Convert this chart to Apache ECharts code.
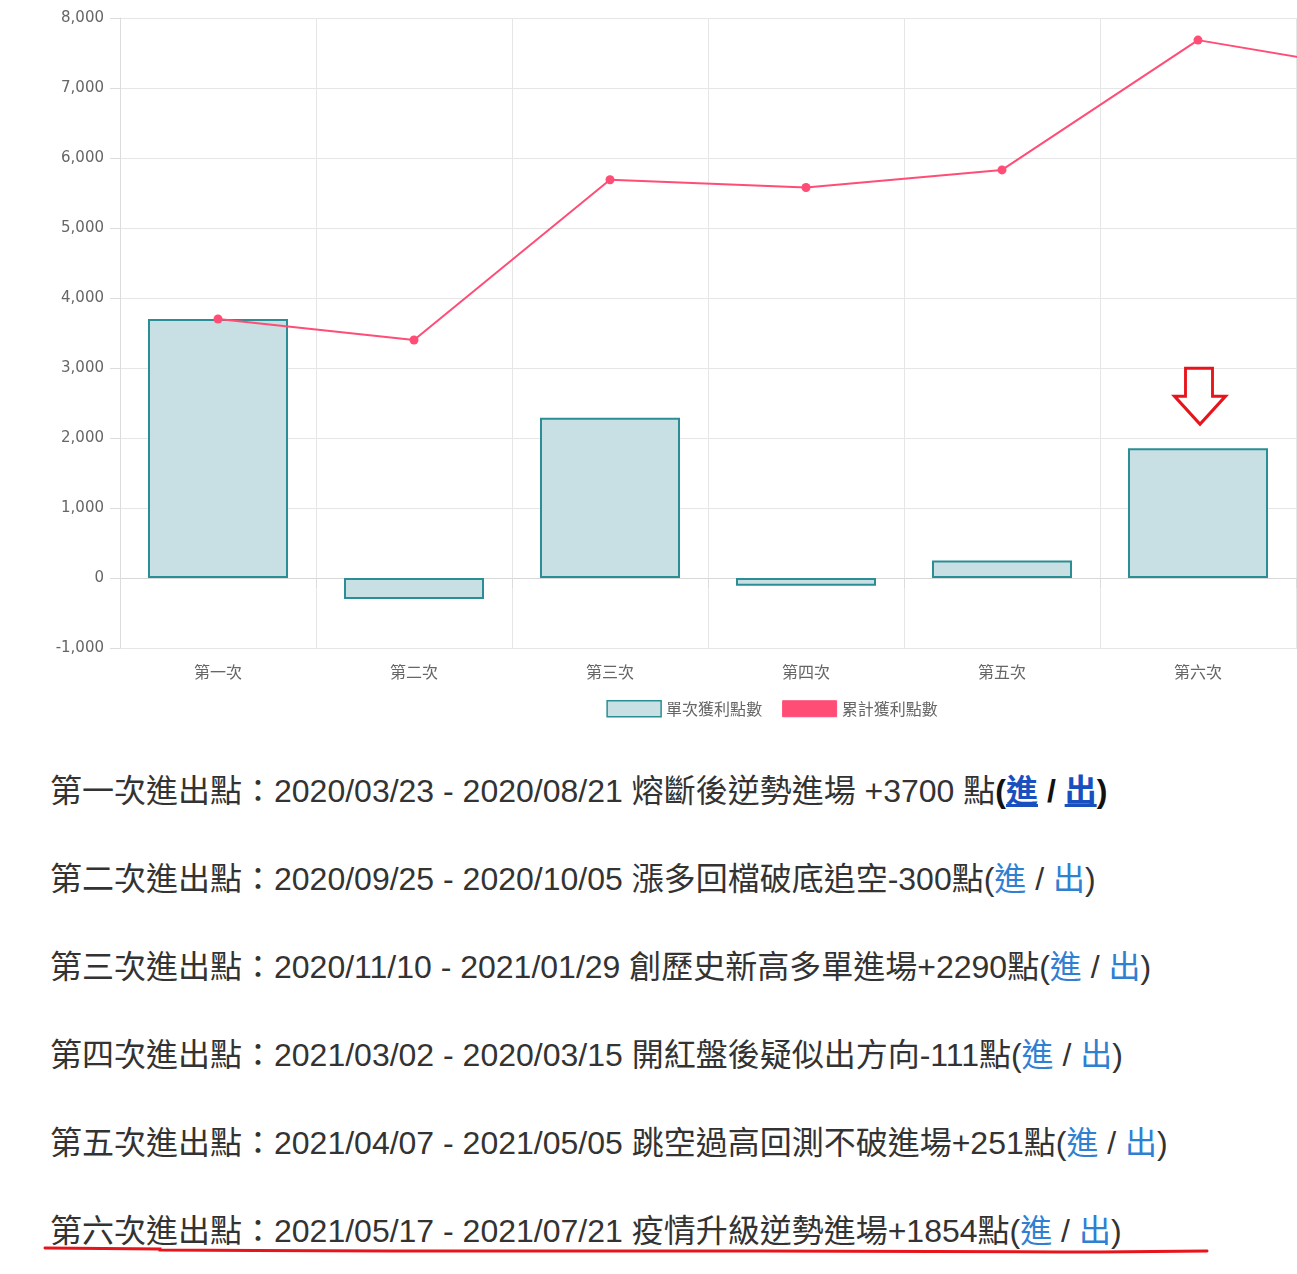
<!DOCTYPE html>
<html>
<head>
<meta charset="utf-8">
<script src="https://cdn.jsdelivr.net/npm/echarts@6/dist/echarts.min.js"></script>
<style>
  html, body { margin: 0; padding: 0; background: #fff; width: 1297px; height: 1274px; overflow: hidden; position: relative; }
  #chart { position: absolute; left: 0; top: 0; width: 1544px; height: 740px; }
  #notes { position: absolute; left: 50px; top: 747px; font-family: "Liberation Sans", "Noto Sans CJK TC", sans-serif; font-size: 32px; color: #333; }
  #notes p { margin: 0; height: 88px; line-height: 88px; white-space: nowrap; }
  #notes a { color: #2f7fd3; text-decoration: none; }
  #notes p.first .paren { font-weight: bold; color: #111; }
  #notes p.first a { color: #1a4fc0; font-weight: bold; text-decoration: underline; }
  #underline { position: absolute; left: 0; top: 0; }
</style>
</head>
<body>
<div id="chart"></div>
<div id="notes"></div>
<svg id="underline" width="1297" height="1274"></svg>
<script>
// ---- data ----
const categories = ['第一次', '第二次', '第三次', '第四次', '第五次', '第六次', '第七次'];
const singleValues = [3700, -300, 2290, -111, 251, 1854, -474];
const cumulativeValues = [3700, 3400, 5690, 5579, 5830, 7684, 7210];
const seriesNames = ['單次獲利點數', '累計獲利點數'];
const yTicks = { min: -1000, max: 8000, interval: 1000 };
const noteLines = [
  { text: '第一次進出點：2020/03/23 - 2020/08/21 熔斷後逆勢進場 +3700 點', first: true },
  { text: '第二次進出點：2020/09/25 - 2020/10/05 漲多回檔破底追空-300點' },
  { text: '第三次進出點：2020/11/10 - 2021/01/29 創歷史新高多單進場+2290點' },
  { text: '第四次進出點：2021/03/02 - 2020/03/15 開紅盤後疑似出方向-111點' },
  { text: '第五次進出點：2021/04/07 - 2021/05/05 跳空過高回測不破進場+251點' },
  { text: '第六次進出點：2021/05/17 - 2021/07/21 疫情升級逆勢進場+1854點' }
];
const linkWords = ['進', '出'];

// ---- notes text ----
const notes = document.getElementById('notes');
noteLines.forEach(l => {
  const p = document.createElement('p');
  if (l.first) p.className = 'first';
  p.appendChild(document.createTextNode(l.text));
  const o = document.createElement('span'); o.className = 'paren'; o.textContent = '(';
  p.appendChild(o);
  const a1 = document.createElement('a'); a1.href = '#'; a1.textContent = linkWords[0];
  p.appendChild(a1);
  const sl = document.createElement('span'); sl.className = 'paren'; sl.textContent = ' / ';
  p.appendChild(sl);
  const a2 = document.createElement('a'); a2.href = '#'; a2.textContent = linkWords[1];
  p.appendChild(a2);
  const c = document.createElement('span'); c.className = 'paren'; c.textContent = ')';
  p.appendChild(c);
  notes.appendChild(p);
});

// hand-drawn red underline under last line
const svg = document.getElementById('underline');
const pl = document.createElementNS('http://www.w3.org/2000/svg', 'polyline');
pl.setAttribute('points', '45,1248 160,1249 160,1250 392,1251 756,1251 1060,1252 1100,1252 1207,1251');
pl.setAttribute('fill', 'none');
pl.setAttribute('stroke', '#e8141c');
pl.setAttribute('stroke-width', '3');
pl.setAttribute('stroke-linecap', 'round');
svg.appendChild(pl);

// ---- chart ----
const chart = echarts.init(document.getElementById('chart'), null, { renderer: 'canvas' });
const numFont = '"DejaVu Sans", "Liberation Sans", sans-serif';
const cjkFont = '"Noto Sans CJK TC", sans-serif';
const barFill = '#c8e0e4';
const barBorder = '#2a8e94';
const lineColor = '#ff4d76';
const gridColor = '#e6e6e6';
const arrowPath = 'path://M11,0 L38,0 L38,28 L51,28 L25.5,56 L0,28 L11,28 Z';

chart.setOption({
  animation: false,
  textStyle: { fontFamily: cjkFont },
  grid: { left: 120, right: 52, top: 18, bottom: 92 },
  legend: {
    top: 700,
    left: 'center',
    padding: 0,
    itemWidth: 54,
    itemHeight: 16,
    itemGap: 20,
    textStyle: { color: '#666', fontSize: 16, fontFamily: cjkFont },
    data: [
      { name: seriesNames[0], icon: 'rect', itemStyle: { color: barFill, borderColor: barBorder, borderWidth: 1.5 } },
      { name: seriesNames[1], icon: 'rect', itemStyle: { color: lineColor, borderColor: lineColor, borderWidth: 1 } }
    ]
  },
  xAxis: {
    type: 'category',
    data: categories,
    boundaryGap: true,
    axisLine: { show: true, lineStyle: { color: '#d8d8d8', width: 1 } },
    axisTick: { show: true, length: 10, lineStyle: { color: '#dcdcdc' } },
    axisLabel: { color: '#666', fontSize: 16, margin: 16, fontFamily: cjkFont },
    splitLine: { show: true, lineStyle: { color: gridColor, width: 1 } }
  },
  yAxis: {
    type: 'value',
    min: yTicks.min,
    max: yTicks.max,
    interval: yTicks.interval,
    axisLine: { show: true, lineStyle: { color: '#dcdcdc' } },
    axisTick: { show: true, length: 10, lineStyle: { color: '#dcdcdc' } },
    axisLabel: {
      color: '#666', fontSize: 15, margin: 16, fontFamily: numFont,
      formatter: v => v.toLocaleString('en-US')
    },
    splitLine: { show: true, lineStyle: { color: gridColor, width: 1 } }
  },
  series: [
    {
      name: seriesNames[0],
      type: 'bar',
      data: singleValues,
      barWidth: 140,
      itemStyle: { color: barFill, borderColor: barBorder, borderWidth: 2 },
      markPoint: {
        symbol: arrowPath,
        symbolSize: [51, 56],
        symbolOffset: [2, -52],
        silent: true,
        label: { show: false },
        itemStyle: { color: 'rgba(0,0,0,0)', borderColor: '#e8141c', borderWidth: 3 },
        data: [{ coord: [5, singleValues[5]] }]
      },
      z: 1
    },
    {
      name: seriesNames[1],
      type: 'line',
      data: cumulativeValues,
      symbol: 'circle',
      symbolSize: 9,
      lineStyle: { color: lineColor, width: 2 },
      itemStyle: { color: lineColor },
      z: 3
    }
  ]
});
</script>
</body>
</html>
